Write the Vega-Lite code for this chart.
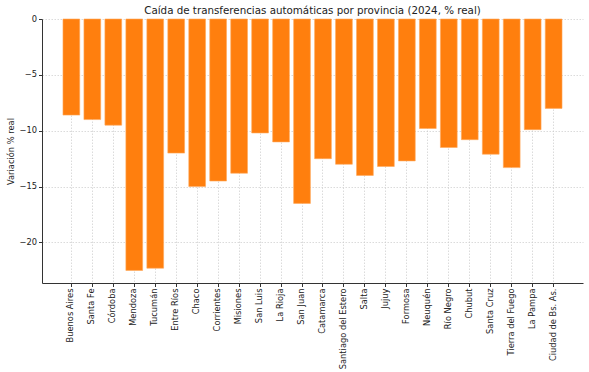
{
  "$schema": "https://vega.github.io/schema/vega-lite/v6.json",
  "autosize": {"type": "fit", "contains": "padding"},
  "width": 589,
  "height": 372,
  "padding": {"left": 6, "top": 5, "right": 6, "bottom": 3},
  "background": "white",
  "title": {
    "text": "Caída de transferencias automáticas por provincia (2024, % real)",
    "font": "DejaVu Sans",
    "fontSize": 10.3,
    "fontWeight": "normal",
    "color": "#222222",
    "offset": -2
  },
  "data": {
    "values": [
      {"provincia": "Buenos Aires", "variacion": -8.6},
      {"provincia": "Santa Fe", "variacion": -9.0},
      {"provincia": "Córdoba", "variacion": -9.5},
      {"provincia": "Mendoza", "variacion": -22.5},
      {"provincia": "Tucumán", "variacion": -22.3},
      {"provincia": "Entre Ríos", "variacion": -12.0},
      {"provincia": "Chaco", "variacion": -15.0},
      {"provincia": "Corrientes", "variacion": -14.5},
      {"provincia": "Misiones", "variacion": -13.8},
      {"provincia": "San Luis", "variacion": -10.2},
      {"provincia": "La Rioja", "variacion": -11.0},
      {"provincia": "San Juan", "variacion": -16.5},
      {"provincia": "Catamarca", "variacion": -12.5},
      {"provincia": "Santiago del Estero", "variacion": -13.0},
      {"provincia": "Salta", "variacion": -14.0},
      {"provincia": "Jujuy", "variacion": -13.2},
      {"provincia": "Formosa", "variacion": -12.7},
      {"provincia": "Neuquén", "variacion": -9.8},
      {"provincia": "Río Negro", "variacion": -11.5},
      {"provincia": "Chubut", "variacion": -10.8},
      {"provincia": "Santa Cruz", "variacion": -12.1},
      {"provincia": "Tierra del Fuego", "variacion": -13.3},
      {"provincia": "La Pampa", "variacion": -9.9},
      {"provincia": "Ciudad de Bs. As.", "variacion": -8.0}
    ]
  },
  "mark": {"type": "bar", "color": "#ff7f0e", "stroke": "#ffa95c", "strokeWidth": 0.6},
  "encoding": {
    "x": {
      "field": "provincia",
      "type": "nominal",
      "sort": null,
      "scale": {"paddingInner": 0.2, "paddingOuter": 1.19},
      "axis": {
        "title": null,
        "labelAngle": -90,
        "labelFont": "DejaVu Sans",
        "labelFontSize": 8.3,
        "labelColor": "#222222",
        "labelPadding": 1.5,
        "tickSize": 3.5,
        "tickColor": "#333333",
        "domainColor": "#333333",
        "grid": true,
        "gridColor": "#cccccc",
        "gridDash": [1.5, 1.5],
        "gridWidth": 0.7
      }
    },
    "y": {
      "field": "variacion",
      "type": "quantitative",
      "scale": {"domain": [-23.625, 0], "nice": false, "zero": false},
      "axis": {
        "title": "Variación % real",
        "titleFont": "DejaVu Sans",
        "titleFontSize": 8.3,
        "titleFontWeight": "normal",
        "titleColor": "#222222",
        "titlePadding": 3,
        "values": [0, -5, -10, -15, -20],
        "labelFont": "DejaVu Sans",
        "labelFontSize": 8.3,
        "labelColor": "#222222",
        "labelPadding": 2,
        "tickSize": 3.5,
        "tickColor": "#333333",
        "domainColor": "#333333",
        "grid": true,
        "gridColor": "#cccccc",
        "gridDash": [1.5, 1.5],
        "gridWidth": 0.7
      }
    }
  },
  "config": {"view": {"stroke": null}}
}
